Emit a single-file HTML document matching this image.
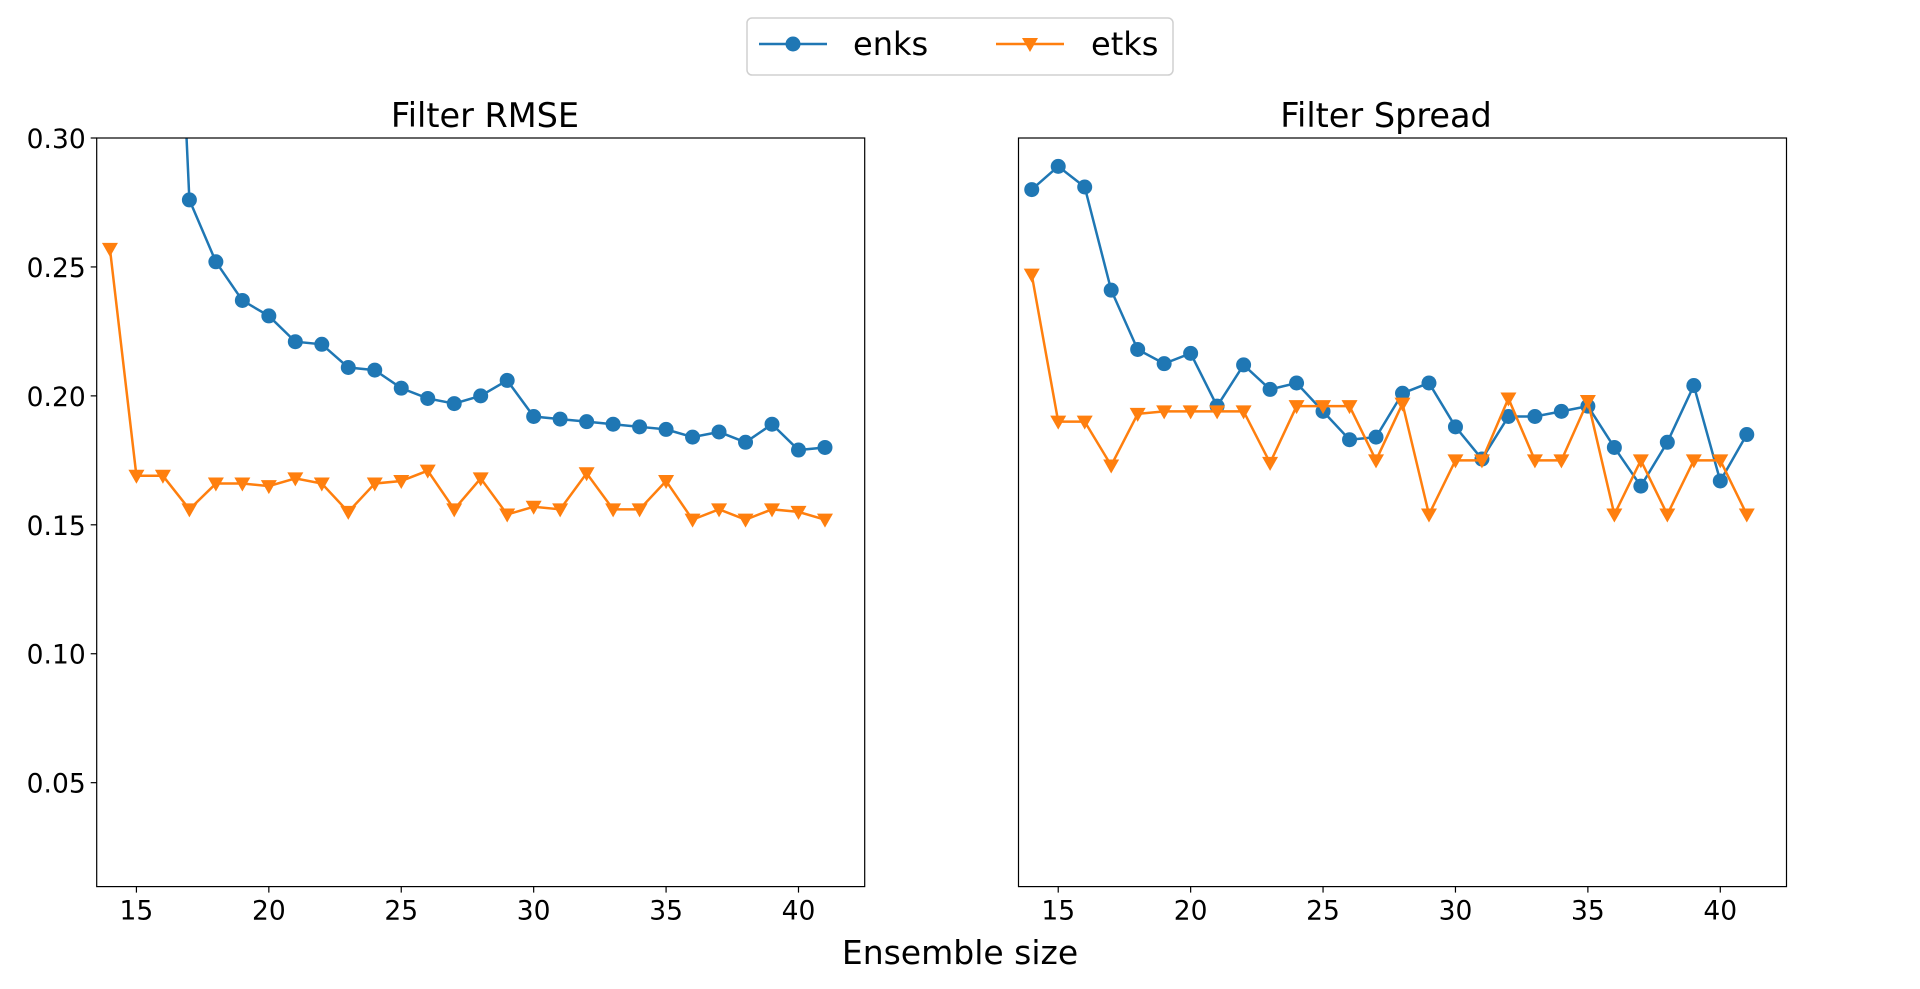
<!DOCTYPE html>
<html><head><meta charset="utf-8"><style>
body{margin:0;background:#fff;}
svg text{font-family:"DejaVu Sans","Liberation Sans",sans-serif;}
</style></head><body>
<svg id="fig" width="1920" height="984" xmlns="http://www.w3.org/2000/svg">
<g>
<rect x="747" y="18" width="426" height="57" rx="5" fill="#fff" stroke="#d0d0d0" stroke-width="1.5"/>
<g>
<line x1="759" y1="44" x2="827" y2="44" stroke="#1f77b4" stroke-width="2.5"/>
<circle cx="793" cy="44" r="7.5" fill="#1f77b4"/>
<text x="853" y="55" font-size="32">enks</text></g>
<g>
<line x1="996" y1="44" x2="1064" y2="44" stroke="#ff7f0e" stroke-width="2.5"/>
<path d="M1022,38 L1038,38 L1030,52 Z" fill="#ff7f0e"/>
<text x="1091" y="55" font-size="32">etks</text></g>
</g>
<text x="960" y="964" font-size="33" text-anchor="middle">Ensemble size</text>
</svg>
<script>
const sizes=[14,15,16,17,18,19,20,21,22,23,24,25,26,27,28,29,30,31,32,33,34,35,36,37,38,39,40,41];
const rmseEnks=[0.8,0.65,0.5,0.276,0.252,0.237,0.231,0.221,0.220,0.211,0.210,0.203,0.199,0.197,0.200,0.206,0.192,0.191,0.190,0.189,0.188,0.187,0.184,0.186,0.182,0.189,0.179,0.180];
const rmseEtks=[0.257,0.169,0.169,0.156,0.166,0.166,0.165,0.168,0.166,0.155,0.166,0.167,0.171,0.156,0.168,0.154,0.157,0.156,0.170,0.156,0.156,0.167,0.152,0.156,0.152,0.156,0.155,0.152];
const spreadEnks=[0.280,0.289,0.281,0.241,0.218,0.2125,0.2165,0.196,0.212,0.2025,0.205,0.194,0.183,0.184,0.201,0.205,0.188,0.1755,0.192,0.192,0.194,0.196,0.180,0.165,0.182,0.204,0.167,0.185];
const spreadEtks=[0.247,0.190,0.190,0.173,0.193,0.194,0.194,0.194,0.194,0.174,0.196,0.196,0.196,0.175,0.197,0.154,0.175,0.175,0.199,0.175,0.175,0.198,0.154,0.175,0.154,0.175,0.175,0.154];
const xTicks=[15,20,25,30,35,40];
const yTicks=[0.05,0.10,0.15,0.20,0.25,0.30];
const NS="http://www.w3.org/2000/svg";
const svg=document.getElementById('fig');
function mk(tag,attrs,parent){const e=document.createElementNS(NS,tag);for(const k in attrs)e.setAttribute(k,attrs[k]);parent.appendChild(e);return e;}
const T=138,B=886.6,XMIN=13.5,XMAX=42.5,YMIN=0.0097,YMAX=0.30;
function panel(left,title,titleX,enks,etks,showY,name,idx){
  const W=768;
  const sx=v=>left+(v-XMIN)/(XMAX-XMIN)*W;
  const sy=v=>B-(v-YMIN)/(YMAX-YMIN)*(B-T);
  const g=mk('g',{},svg);
  
  
  const cp=mk('clipPath',{id:'cp'+idx},g);
  mk('rect',{x:left,y:T,width:W,height:B-T},cp);
  const t=mk('text',{x:titleX,y:T-11,'font-size':33.5,'text-anchor':'middle'},g);
  t.textContent=title;
  
  
  const pg=mk('g',{'clip-path':'url(#cp'+idx+')'},g);
  let d1=enks.map((v,i)=>(i?'L':'M')+sx(sizes[i])+','+sy(v)).join(' ');
  const l1=mk('path',{d:d1,fill:'none',stroke:'#1f77b4','stroke-width':2.5},pg);
  
  
  enks.forEach((v,i)=>{const c=mk('circle',{cx:sx(sizes[i]),cy:sy(v),r:7.5,fill:'#1f77b4'},pg);
    
    });
  let d2=etks.map((v,i)=>(i?'L':'M')+sx(sizes[i])+','+sy(v)).join(' ');
  const l2=mk('path',{d:d2,fill:'none',stroke:'#ff7f0e','stroke-width':2.5},pg);
  
  
  etks.forEach((v,i)=>{const x=sx(sizes[i]),y=sy(v);
    const p=mk('path',{d:`M${x-8},${y-6} L${x+8},${y-6} L${x},${y+8} Z`,fill:'#ff7f0e'},pg);
    
    });
  mk('rect',{x:left,y:T,width:W,height:B-T,fill:'none',stroke:'#000','stroke-width':1.2},g);
  xTicks.forEach(v=>{const x=sx(v);
    mk('line',{x1:x,y1:B,x2:x,y2:B+6,stroke:'#000','stroke-width':1.2},g);
    const tx=mk('text',{x:x,y:B+33,'font-size':26.5,'text-anchor':'middle'},g);
    tx.textContent=v;
    
    });
  if(showY) yTicks.forEach(v=>{const y=sy(v);
    mk('line',{x1:left-6,y1:y,x2:left,y2:y,stroke:'#000','stroke-width':1.2},g);
    const ty=mk('text',{x:left-11,y:y+10,'font-size':26.5,'text-anchor':'end'},g);
    ty.textContent=v.toFixed(2);
    
    });
}
panel(96.7,'Filter RMSE',485,rmseEnks,rmseEtks,true,'rmse-panel',1);
panel(1018.5,'Filter Spread',1386,spreadEnks,spreadEtks,false,'spread-panel',2);
</script>
</body></html>
